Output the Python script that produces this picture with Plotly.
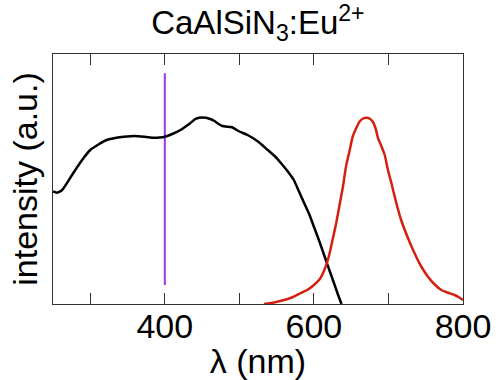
import plotly.graph_objects as go

# Excitation spectrum (black)
exc_nm = [250, 255, 262, 277, 290, 300, 312, 322, 335, 345, 360, 375, 385, 393, 400,
          410, 421, 434, 441, 446, 455, 461, 466, 477, 490, 500, 511, 525, 538, 548,
          556, 565, 573, 580, 587, 594, 600, 608, 616, 622, 627, 632, 637]
exc_val = [0.45, 0.445, 0.455, 0.523, 0.58, 0.616, 0.64, 0.656, 0.665, 0.669, 0.672, 0.668,
           0.665, 0.666, 0.669, 0.68, 0.696, 0.723, 0.74, 0.745, 0.745, 0.74, 0.733, 0.712,
           0.707, 0.69, 0.676, 0.65, 0.616, 0.59, 0.563, 0.53, 0.496, 0.45, 0.403, 0.357,
           0.309, 0.245, 0.176, 0.125, 0.083, 0.04, 0.0]

# Emission spectrum (red)
em_nm = [533, 545, 560, 572, 582, 592, 600, 608, 614, 620, 625, 630, 634, 639, 643, 648,
         652, 657, 661, 666, 671, 675, 679, 683, 686, 690, 695, 699, 704, 710, 717, 726,
         735, 744, 753, 762, 771, 780, 789, 795, 800]
em_val = [0.0, 0.005, 0.016, 0.028, 0.043, 0.058, 0.076, 0.1, 0.136, 0.19, 0.256, 0.325,
          0.389, 0.47, 0.549, 0.615, 0.669, 0.705, 0.729, 0.742, 0.745, 0.741, 0.729, 0.7,
          0.663, 0.635, 0.596, 0.54, 0.483, 0.41, 0.336, 0.265, 0.203, 0.15, 0.109, 0.078,
          0.056, 0.045, 0.036, 0.026, 0.016]

# Excitation wavelength marker (purple)
laser_nm = [400, 400]
laser_val = [0.076, 0.923]

tick_vals = [300, 400, 500, 600, 700, 800]
tick_text = ["", "400", "", "600", "", "800"]

FONT = "Liberation Sans, Arial, Helvetica, sans-serif"

fig = go.Figure()
fig.add_trace(go.Scatter(x=laser_nm, y=laser_val, mode="lines",
                         line=dict(color="#A035E0", width=2), showlegend=False))
fig.add_trace(go.Scatter(x=exc_nm, y=exc_val, mode="lines",
                         line=dict(color="black", width=2.5, shape="spline", smoothing=0.5),
                         showlegend=False))
fig.add_trace(go.Scatter(x=em_nm, y=em_val, mode="lines",
                         line=dict(color="#D42010", width=2.5, shape="spline", smoothing=0.5),
                         showlegend=False))

fig.update_layout(
    width=496, height=380,
    margin=dict(l=53, r=33, t=54, b=76, autoexpand=False),
    paper_bgcolor="white", plot_bgcolor="white",
    font=dict(family=FONT, size=34, color="black"),
    title=dict(text="CaAlSiN<sub>3</sub>:Eu<sup>2+</sup>", x=0.52, xanchor="center",
               y=0.94, yanchor="middle", font=dict(family=FONT, size=33, color="black")),
)
fig.update_xaxes(
    range=[250, 800], tickvals=tick_vals, ticktext=tick_text,
    ticks="inside", ticklen=11, tickwidth=1.2, tickcolor="#333",
    showline=True, linecolor="#333", linewidth=1.2, mirror="ticks",
    showgrid=False, zeroline=False, automargin=False,
    ticklabelstandoff=-8,
    tickfont=dict(family=FONT, size=34, color="black"),
    title=dict(text="λ (nm)", standoff=0, font=dict(family=FONT, size=34, color="black")),
)
fig.update_yaxes(
    range=[0, 1], showticklabels=False, ticks="",
    showline=True, linecolor="#333", linewidth=1.2, mirror=True,
    showgrid=False, zeroline=False, automargin=False,
    title=dict(text="intensity (a.u.)", standoff=4, font=dict(family=FONT, size=34, color="black")),
)

fig.write_html("out.html")
